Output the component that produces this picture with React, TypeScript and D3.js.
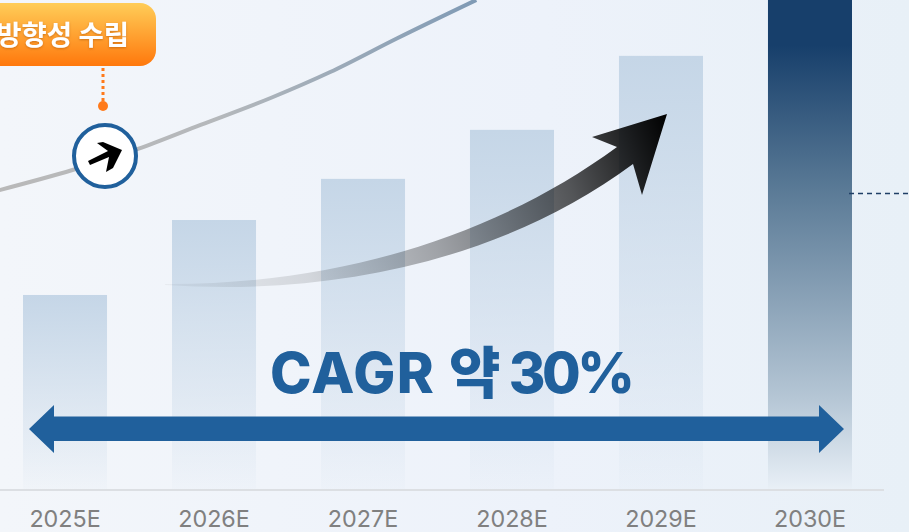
import React, { useEffect, useRef } from 'react';
import * as d3 from 'd3';

const W = 909;
const H = 532;

const years = ['2025E', '2026E', '2027E', '2028E', '2029E', '2030E'];
const barValues = [39.8, 55.1, 63.5, 73.5, 88.6, 104];

// trend line: fractional year vs same value axis
const trendYears = [2024.56, 2025.05, 2025.49, 2025.91, 2026.38, 2026.78, 2027.23, 2027.76];
const trendValues = [61.2, 65.3, 69.6, 74.5, 80, 85.3, 92.2, 100];

const BLUE = '#20609c';

const App = () => {
  const axisRef = useRef<SVGGElement>(null);

  const x = d3.scaleBand<string>().domain(years).range([23, 852]).paddingInner(0.436).paddingOuter(0);
  const y = d3.scaleLinear().domain([0, 100]).range([490, 0]);
  const xYear = d3.scaleLinear().domain([2025, 2030]).range([65, 810]);

  const trendPath = d3.line<number>()
    .x(d => xYear(trendYears[d]))
    .y(d => y(trendValues[d]))
    .curve(d3.curveMonotoneX)(trendYears.map((_, i) => i)) as string;

  // big swoosh arrow
  const swoosh = d3.path();
  swoosh.moveTo(165, 284);
  swoosh.bezierCurveTo(330, 285, 490, 240, 617, 147);
  swoosh.lineTo(592, 137);
  swoosh.lineTo(667, 114);
  swoosh.lineTo(642, 195);
  swoosh.lineTo(633, 164);
  swoosh.bezierCurveTo(500, 262, 330, 296, 165, 285);
  swoosh.closePath();

  // double headed span arrow
  const span = d3.path();
  span.moveTo(29, 429);
  span.lineTo(54, 405);
  span.lineTo(54, 416.5);
  span.lineTo(819, 416.5);
  span.lineTo(819, 405);
  span.lineTo(844, 429);
  span.lineTo(819, 453);
  span.lineTo(819, 441);
  span.lineTo(54, 441);
  span.lineTo(54, 453);
  span.closePath();

  useEffect(() => {
    if (!axisRef.current) return;
    const g = d3.select(axisRef.current);
    g.selectAll('*').remove();
    g.call(d3.axisBottom(x).tickSize(0).tickPadding(20) as any);
    g.select('.domain').remove();
    g.selectAll('text')
      .attr('font-family', 'Inter, sans-serif')
      .attr('font-size', 23.3)
      .attr('fill', '#808080');
  }, []);

  return (
    <svg width={W} height={H} viewBox={`0 0 ${W} ${H}`}
      style={{ position: 'absolute', left: 0, top: 0, display: 'block' }}>
      <defs>
        <linearGradient id="bg" x1="0" x2="1" y1="0" y2="0">
          <stop offset="0%" stopColor="#f3f6fa" />
          <stop offset="60%" stopColor="#edf2fa" />
          <stop offset="100%" stopColor="#e8f0f7" />
        </linearGradient>
        <linearGradient id="pale" x1="0" x2="0" y1="0" y2="1">
          <stop offset="0%" stopColor="#c5d6e7" />
          <stop offset="100%" stopColor="#c5d6e7" stopOpacity={0.05} />
        </linearGradient>
        <linearGradient id="dark" x1="0" x2="0" y1="0" y2="1">
          <stop offset="12.7%" stopColor="#173f6b" />
          <stop offset="41%" stopColor="#5a7a96" />
          <stop offset="82%" stopColor="#b5c6d5" />
          <stop offset="100%" stopColor="#e9f0f7" />
        </linearGradient>
        <linearGradient id="trend" gradientUnits="userSpaceOnUse" x1="0" x2="480" y1="0" y2="0">
          <stop offset="0%" stopColor="#b9b9b9" />
          <stop offset="45%" stopColor="#b5b8bb" />
          <stop offset="100%" stopColor="#7f9ab5" />
        </linearGradient>
        <linearGradient id="swoosh" gradientUnits="userSpaceOnUse" x1="172" y1="285" x2="667" y2="114">
          <stop offset="0%" stopColor="#000" stopOpacity={0.04} />
          <stop offset="25%" stopColor="#000" stopOpacity={0.12} />
          <stop offset="50%" stopColor="#000" stopOpacity={0.33} />
          <stop offset="78%" stopColor="#000" stopOpacity={0.65} />
          <stop offset="100%" stopColor="#000" />
        </linearGradient>
        <linearGradient id="callout" x1="0" x2="0" y1="0" y2="1">
          <stop offset="0%" stopColor="#ffcd58" />
          <stop offset="100%" stopColor="#ff780c" />
        </linearGradient>
        <filter id="textShadow" x="-10%" y="-20%" width="120%" height="150%">
          <feDropShadow dx="0" dy="1" stdDeviation="1" floodColor="#a04a00" floodOpacity={0.5} />
        </filter>
      </defs>

      <rect width={W} height={H} fill="url(#bg)" />

      {years.map((yr, i) => {
        const top = y(barValues[i]);
        return (
          <rect key={yr} x={x(yr)} y={top} width={x.bandwidth()} height={y(0) - top}
            fill={i === years.length - 1 ? 'url(#dark)' : 'url(#pale)'} />
        );
      })}

      <line x1={0} x2={884} y1={y(0)} y2={y(0)} stroke="#dcdfe3" strokeWidth={2} />
      <g ref={axisRef} transform={`translate(0,${y(0)})`} />

      <path d={trendPath} fill="none" stroke="url(#trend)" strokeWidth={4} />

      <line x1={849} x2={W} y1={193.5} y2={193.5} stroke="#1f3f66" strokeWidth={1.5} strokeDasharray="5,4" />

      <path d={swoosh.toString()} fill="url(#swoosh)" />
      <path d={span.toString()} fill={BLUE} />

      <text x={270} y={393} fontFamily="Inter, 'Noto Sans CJK KR', sans-serif"
        fontWeight={800} fontSize={56} fill={BLUE}>
        <tspan letterSpacing={1.4}>CAGR </tspan>
        <tspan letterSpacing={-2}>약 </tspan>
        <tspan letterSpacing={-3.5}>30%</tspan>
      </text>

      <line x1={103} x2={103} y1={68} y2={101} stroke="#ff7a1a" strokeWidth={3} strokeDasharray="3,3" />
      <circle cx={103} cy={106} r={5} fill="#ff7a1a" />
      <rect x={-40} y={3} width={196} height={63} rx={16} fill="url(#callout)" />
      <text x={129} y={45} textAnchor="end" fontFamily="'Noto Sans CJK KR', sans-serif" fontWeight={700}
        fontSize={27.5} fill="#fff" filter="url(#textShadow)">방향성 수립</text>

      <circle cx={105} cy={156} r={31} fill="#fff" stroke={BLUE} strokeWidth={4} />
      <path d="M97 143 L103 142 L122 150 L113 168 L106 172 L109 157 L90 165 L88 161 L108 151 Z" fill="#000" />
    </svg>
  );
};

export default App;
